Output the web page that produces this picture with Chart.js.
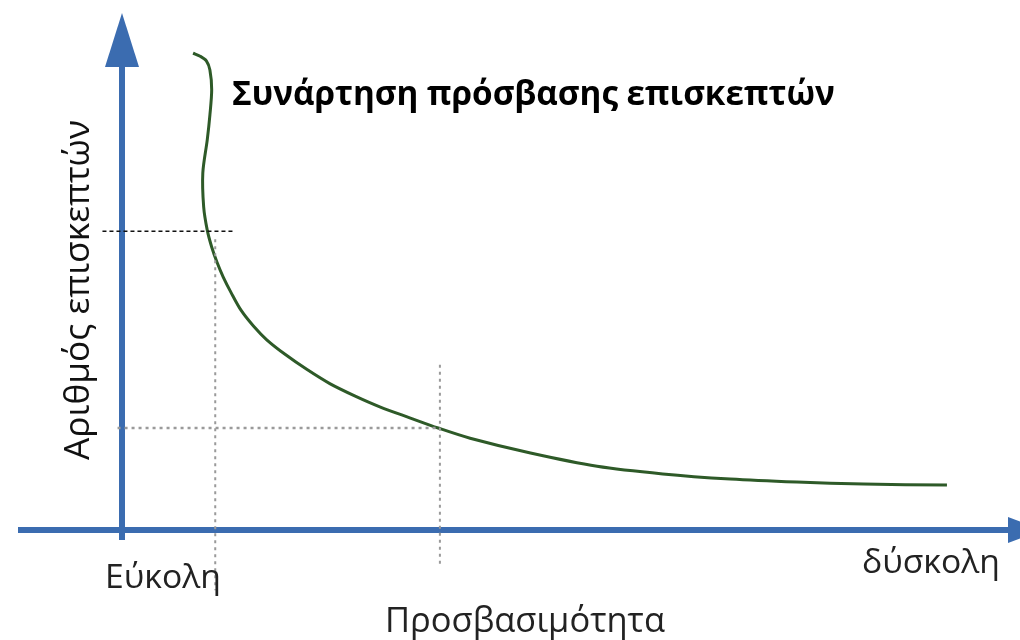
<!DOCTYPE html>
<html>
<head>
<meta charset="utf-8">
<script src="https://cdn.jsdelivr.net/npm/chart.js@4"></script>
<style>
html,body{margin:0;padding:0;background:#fff;}
#wrap{width:1020px;height:640px;}
</style>
</head>
<body>
<div id="wrap"><canvas id="c" width="1020" height="640"></canvas></div>
<script>
// ---- Data ----
const curveX = [0.80, 0.88, 0.95, 0.99, 1.01, 0.99, 0.96, 0.91, 0.92, 0.96, 1.01, 1.07, 1.14, 1.23, 1.34, 1.48, 1.63, 1.84, 2.08, 2.34, 2.62, 2.91, 3.24, 3.56, 3.92, 4.60, 5.35, 6.09, 6.85, 7.60, 8.35, 9.29];
const curveY = [9.35, 9.29, 9.20, 9.02, 8.63, 8.14, 7.65, 7.00, 6.33, 5.88, 5.55, 5.25, 4.96, 4.65, 4.31, 4.00, 3.73, 3.44, 3.15, 2.87, 2.63, 2.41, 2.20, 2.00, 1.80, 1.51, 1.25, 1.10, 1.00, 0.94, 0.90, 0.88];

const highLevelX = [-0.22, 1.25];   // black dashed horizontal guide
const highLevelY = [5.86, 5.86];
const easyGuideX = [1.05, 1.05];    // grey dotted vertical at easy access
const easyGuideY = [5.70, -1.18];
const lowLevelX = [-0.05, 3.58];    // grey dotted horizontal
const lowLevelY = [2.00, 2.00];
const midGuideX = [3.58, 3.58];     // grey dotted vertical
const midGuideY = [3.24, -0.73];

const titleText = "Συνάρτηση πρόσβασης επισκεπτών";
const yAxisTitle = "Αριθμός επισκεπτών";
const xAxisTitle = "Προσβασιμότητα";
const xEasyLabel = "Εύκολη";
const xHardLabel = "δύσκολη";

const toPts = (xs, ys) => xs.map((x, i) => ({x: x, y: ys[i]}));

const AXIS_COLOR = '#3b6cb0';

function fitFont(ctx, text, targetW, weight, family) {
  let size = 30;
  ctx.font = weight + ' ' + size + 'px ' + family;
  const w = ctx.measureText(text).width;
  size = size * targetW / w;
  ctx.font = weight + ' ' + size + 'px ' + family;
  return size;
}

const axesPlugin = {
  id: 'arrowAxes',
  beforeDatasetsDraw(chart) {
    const ctx = chart.ctx;
    const xs = chart.scales.x, ys = chart.scales.y;
    const x0 = xs.getPixelForValue(0), y0 = ys.getPixelForValue(0);
    const yTop = ys.getPixelForValue(10);
    const xRight = xs.getPixelForValue(10);
    ctx.save();
    ctx.strokeStyle = AXIS_COLOR;
    ctx.fillStyle = AXIS_COLOR;
    ctx.lineWidth = 6;
    ctx.lineCap = 'butt';
    // y axis
    ctx.beginPath();
    ctx.moveTo(x0, y0 + 10);
    ctx.lineTo(x0, yTop + 40);
    ctx.stroke();
    ctx.beginPath();
    ctx.moveTo(x0, yTop - 7);
    ctx.lineTo(x0 - 17, yTop + 47);
    ctx.lineTo(x0 + 17, yTop + 47);
    ctx.closePath();
    ctx.fill();
    // x axis
    ctx.beginPath();
    ctx.moveTo(18, y0);
    ctx.lineTo(xRight + 2, y0);
    ctx.stroke();
    ctx.beginPath();
    ctx.moveTo(xRight + 32, y0);
    ctx.lineTo(xRight - 2, y0 - 13);
    ctx.lineTo(xRight - 2, y0 + 13);
    ctx.closePath();
    ctx.fill();
    ctx.restore();
  },
  afterDraw(chart) {
    const ctx = chart.ctx;
    ctx.save();
    ctx.textBaseline = 'middle';
    ctx.textAlign = 'left';
    // title
    ctx.fillStyle = '#000';
    fitFont(ctx, titleText, 603, 'bold', '"Open Sans", "Noto Sans", sans-serif');
    ctx.fillText(titleText, 232, 96);
    // axis texts
    ctx.fillStyle = '#222';
    fitFont(ctx, xEasyLabel, 116, 'normal', '"Open Sans", "Noto Sans", sans-serif');
    ctx.fillText(xEasyLabel, 105, 578);
    fitFont(ctx, xHardLabel, 138, 'normal', '"Open Sans", "Noto Sans", sans-serif');
    ctx.fillText(xHardLabel, 862, 563);
    fitFont(ctx, xAxisTitle, 280, 'normal', '"Open Sans", "Noto Sans", sans-serif');
    ctx.fillText(xAxisTitle, 385, 622);
    // y title rotated
    ctx.translate(79, 290);
    ctx.rotate(-Math.PI / 2);
    ctx.textAlign = 'center';
    ctx.fillStyle = '#111';
    fitFont(ctx, yAxisTitle, 340, 'normal', '"Open Sans", "Noto Sans", sans-serif');
    ctx.fillText(yAxisTitle, 0, 0);
    ctx.restore();
  }
};

new Chart(document.getElementById('c'), {
  type: 'scatter',
  data: {
    datasets: [
      {data: toPts(highLevelX, highLevelY), showLine: true, borderColor: '#111', borderWidth: 1.5, borderDash: [4, 3], pointRadius: 0, clip: false, tension: 0},
      {data: toPts(easyGuideX, easyGuideY), showLine: true, borderColor: '#9a9a9a', borderWidth: 2, borderDash: [3, 4], pointRadius: 0, clip: false, tension: 0},
      {data: toPts(lowLevelX, lowLevelY), showLine: true, borderColor: '#9a9a9a', borderWidth: 2.5, borderDash: [3, 4], pointRadius: 0, clip: false, tension: 0},
      {data: toPts(midGuideX, midGuideY), showLine: true, borderColor: '#9a9a9a', borderWidth: 2, borderDash: [3, 4], pointRadius: 0, clip: false, tension: 0},
      {data: toPts(curveX, curveY), showLine: true, borderColor: '#2e5a28', borderWidth: 3, pointRadius: 0, clip: false, tension: 0.3}
    ]
  },
  options: {
    responsive: false,
    animation: false,
    devicePixelRatio: 1,
    layout: {padding: {left: 122, right: 10, top: 20, bottom: 110}},
    plugins: {legend: {display: false}, tooltip: {enabled: false}, title: {display: false}},
    scales: {
      x: {type: 'linear', min: 0, max: 10, display: false},
      y: {type: 'linear', min: 0, max: 10, display: false}
    }
  },
  plugins: [axesPlugin]
});
</script>
</body>
</html>
